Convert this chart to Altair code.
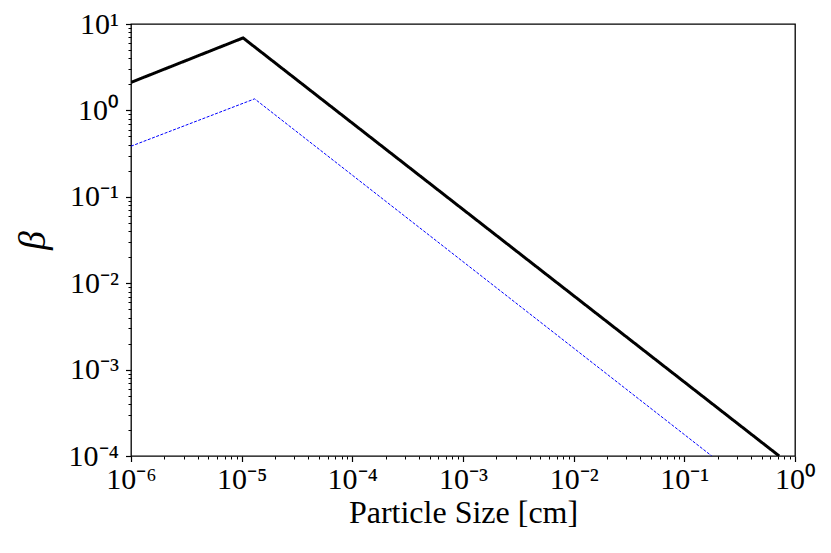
import altair as alt
import pandas as pd

# Data (log-log)
series_names = ["total", "component"]
sizes_total = [1e-6, 1.03e-5, 0.72]
beta_total = [2.11, 6.9, 1e-4]
sizes_comp = [1e-6, 1.31e-5, 0.177]
beta_comp = [0.385, 1.36, 1e-4]

x_major = [1e-6, 1e-5, 1e-4, 1e-3, 1e-2, 1e-1, 1]
x_labels = ["10⁻⁶", "10⁻⁵", "10⁻⁴", "10⁻³", "10⁻²", "10⁻¹", "10⁰"]
y_major = [1e-4, 1e-3, 1e-2, 1e-1, 1, 10]
y_labels = ["10⁻⁴", "10⁻³", "10⁻²", "10⁻¹", "10⁰", "10¹"]
x_minor = [k * 10.0 ** e for e in range(-6, 0) for k in range(2, 10)]
y_minor = [k * 10.0 ** e for e in range(-4, 1) for k in range(2, 10)]

df = pd.DataFrame({
    "size": sizes_total + sizes_comp,
    "beta": beta_total + beta_comp,
    "series": [series_names[0]] * len(sizes_total) + [series_names[1]] * len(sizes_comp),
})

FONT = "Liberation Serif"
xscale = alt.Scale(type="log", domain=[1e-6, 1], nice=False)
yscale = alt.Scale(type="log", domain=[1e-4, 10], nice=False)

def lbl_expr(labels, offset):
    arr = "[" + ",".join("'%s'" % l for l in labels) + "]"
    return "%s[round(log(datum.value)/LN10) + %d]" % (arr, offset)

x_axis_major = alt.Axis(
    values=x_major, labelExpr=lbl_expr(x_labels, 6), orient="bottom",
    domain=False, grid=False, tickSize=5.5, tickWidth=1.2, tickColor="black",
    labelFont=FONT, labelFontSize=30, labelColor="black", labelPadding=3,
    labelFlush=False, labelOverlap=False,
    title="Particle Size [cm]", titleFont=FONT, titleFontSize=32,
    titleFontWeight="normal", titleColor="black", titleY=66,
    titleBaseline="alphabetic",
)
y_axis_major = alt.Axis(
    values=y_major, labelExpr=lbl_expr(y_labels, 4), orient="left",
    domain=False, grid=False, tickSize=5.5, tickWidth=1.2, tickColor="black",
    labelFont=FONT, labelFontSize=30, labelColor="black", labelPadding=7,
    labelFlush=False, labelOverlap=False, labelBaseline="middle",
    title="β", titleFont=FONT, titleFontSize=38, titleFontStyle="italic",
    titleFontWeight="normal", titleColor="black", titleX=-98, titleY=216,
    titleAlign="center", titleBaseline="middle", titleAngle=270,
)
x_axis_minor = alt.Axis(
    values=x_minor, labels=False, orient="bottom", domain=False, grid=False,
    tickSize=3, tickWidth=1, tickColor="black", title=None,
)
y_axis_minor = alt.Axis(
    values=y_minor, labels=False, orient="left", domain=False, grid=False,
    tickSize=3, tickWidth=1, tickColor="black", title=None,
)

lines = alt.Chart(df).mark_line(clip=True).encode(
    x=alt.X("size:Q", scale=xscale, axis=x_axis_major),
    y=alt.Y("beta:Q", scale=yscale, axis=y_axis_major),
    color=alt.Color("series:N", scale=alt.Scale(domain=series_names, range=["#000000", "#0000ff"]), legend=None),
    strokeWidth=alt.StrokeWidth("series:N", scale=alt.Scale(domain=series_names, range=[3, 1]), legend=None),
    strokeDash=alt.StrokeDash("series:N", scale=alt.Scale(domain=series_names, range=[[1, 0], [3, 1.5]]), legend=None),
    detail="series:N",
)

minor = alt.Chart(df).mark_line(opacity=0).encode(
    x=alt.X("size:Q", scale=xscale, axis=x_axis_minor),
    y=alt.Y("beta:Q", scale=yscale, axis=y_axis_minor),
    detail="series:N",
)

chart = alt.layer(lines, minor).resolve_axis(x="independent", y="independent").properties(
    width=664, height=432,
    background="white",
    autosize=alt.AutoSizeParams(type="none"),
    padding={"left": 123, "top": 16, "right": 28, "bottom": 88},
).configure_view(stroke="black", strokeWidth=1.3)

chart.save("out.html", embed_options={"renderer": "svg", "actions": False})
